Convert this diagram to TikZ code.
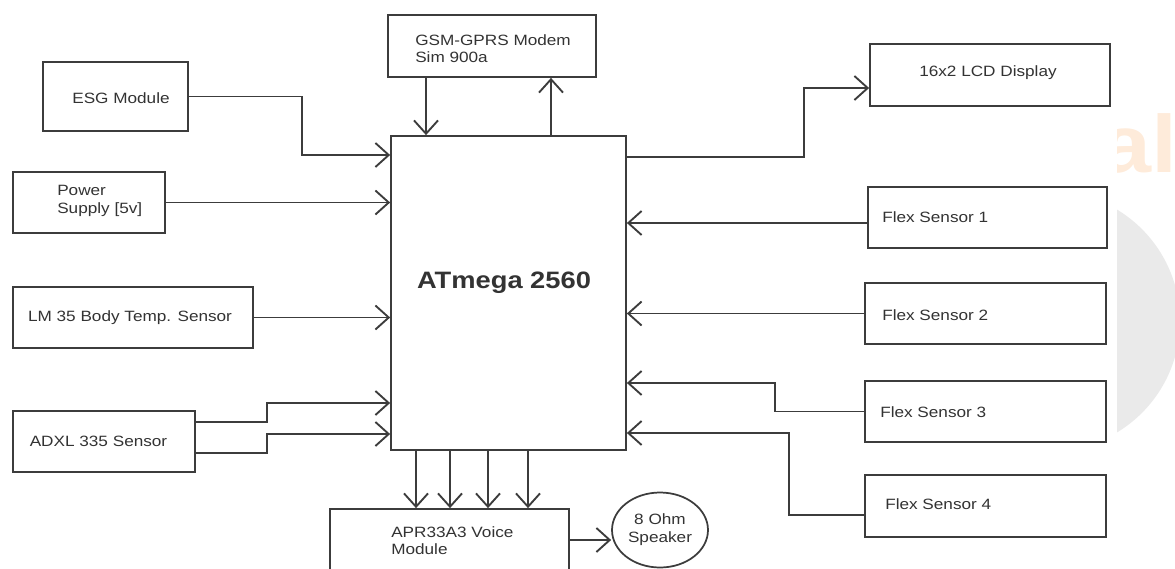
\documentclass[tikz,border=0pt]{standalone}
\usepackage{fontspec}
\setmainfont[FakeStretch=1.15]{Liberation Sans}
\usetikzlibrary{arrows.meta,shapes.geometric}
\definecolor{ln}{HTML}{3C3C3C}
\definecolor{tx}{HTML}{333333}
\definecolor{wmgray}{HTML}{EAEAEA}
\definecolor{wmorange}{HTML}{FEEBDA}
\begin{document}
\begin{tikzpicture}[x=0.75pt,y=-0.75pt,
  box/.style={draw=ln, line width=1.3pt, rectangle, inner sep=0pt},
  sz/.style 2 args={minimum width=#1*0.75pt, minimum height=#2*0.75pt},
  lbl/.style={font=\fontsize{11.2}{13}\selectfont, text=tx, inner sep=0pt, align=left},
  arr/.style={draw=ln, line width=1.4pt, -{Straight Barb[length=10pt, width=18pt]}}]
\useasboundingbox (0,0) rectangle (1175,568);
\clip (0,0) rectangle (1175,568);
% watermark behind the diagram
\fill[wmgray] (1050,321) circle[radius=130];
\node[font=\bfseries\fontsize{61}{61}\selectfont, text=wmorange, anchor=base east, inner sep=0pt] (wm) at (1178,172) {al};
\fill[white] (0,0) rectangle (1117,568);

% boxes
\node[box, sz={208}{62}] (gsm) at (492,46) {};
\node[box, sz={145}{69}] (esg) at (115.5,96.5) {};
\node[box, sz={152}{61}] (pow) at (89,202.5) {};
\node[box, sz={240}{61}] (lm) at (133,317.5) {};
\node[box, sz={182}{61}] (adxl) at (104,441.5) {};
\node[box, sz={235}{314}] (at) at (508.5,293) {};
\node[box, sz={239}{66}] (apr) at (449.5,542) {};
\node[draw=ln, line width=1.3pt, ellipse, inner sep=0pt, sz={96}{75}] (spk) at (660,530) {};
\node[box, sz={240}{62}] (lcd) at (990,75) {};
\node[box, sz={239}{61}] (f1) at (987.5,217.5) {};
\node[box, sz={241}{61}] (f2) at (985.5,313.5) {};
\node[box, sz={241}{61}] (f3) at (985.5,411.5) {};
\node[box, sz={241}{62}] (f4) at (985.5,506) {};

% texts
\node[lbl, anchor=west] (gsmT) at (415,48.5) {GSM-GPRS Modem\\Sim 900a};
\node[lbl] (esgT) at (121,98) {ESG Module};
\node[lbl, anchor=west] (powT) at (57,201) {Power\\Supply [5v]};
\node[lbl] (lmT) at (130,318) {LM 35 Body Temp. Sensor};
\node[lbl] (adxlT) at (98.5,441) {ADXL 335 Sensor};
\node[font=\bfseries\fontsize{17.8}{20}\selectfont, text=tx, inner sep=0pt] (atT) at (504,283) {ATmega 2560};
\node[lbl, anchor=west] (aprT) at (391,540.5) {APR33A3 Voice\\Module};
\node[lbl, align=center] (spkT) at (660,529.5) {8 Ohm\\Speaker};
\node[lbl] (lcdT) at (988,73) {16x2 LCD Display};
\node[lbl, anchor=west] (f1T) at (882,217) {Flex Sensor 1};
\node[lbl, anchor=west] (f2T) at (882,315) {Flex Sensor 2};
\node[lbl, anchor=west] (f3T) at (880,412) {Flex Sensor 3};
\node[lbl, anchor=west] (f4T) at (885,504) {Flex Sensor 4};

% helper coordinates
\coordinate (jE) at (302,155);
\coordinate (g1) at (426,0);
\coordinate (g2) at (551,0);
\coordinate (jA1) at (267,422);
\coordinate (kA1) at (267,403);
\coordinate (jA2) at (267,453);
\coordinate (kA2) at (267,434);
\coordinate (l1) at (804,157);
\coordinate (l2) at (804,88);
\coordinate (f1y) at (0,223);
\coordinate (j3) at (775,383);
\coordinate (f4s) at (0,515);
\coordinate (j4) at (789,433);
\coordinate (sy) at (0,540);

% connectors
\draw[arr] (esg.east) -| (jE) -- (at.west |- jE);
\draw[arr] (pow.east) -- (pow.east -| at.west);
\draw[arr] (lm.east) -- (lm.east -| at.west);
\draw[arr] (adxl.east |- jA1) -- (jA1) -- (kA1) -- (at.west |- kA1);
\draw[arr] (adxl.east |- jA2) -- (jA2) -- (kA2) -- (at.west |- kA2);
\draw[arr] (gsm.south -| g1) -- (at.north -| g1);
\draw[arr] (at.north -| g2) -- (gsm.south -| g2);
\draw[arr] (at.east |- l1) -- (l1) -- (l2) -- (lcd.west |- l2);
\draw[arr] (f1.west |- f1y) -- (at.east |- f1y);
\draw[arr] (f2.west) -- (f2.west -| at.east);
\draw[arr] (f3.west) -| (j3) -- (at.east |- j3);
\draw[arr] (f4.west |- f4s) -| (j4) -- (at.east |- j4);
\foreach \x in {416,450,488,528} \draw[arr] (at.south -| \x,0) -- (apr.north -| \x,0);
\draw[arr] (apr.east |- sy) -- (spk.west |- sy);
\end{tikzpicture}
\end{document}
